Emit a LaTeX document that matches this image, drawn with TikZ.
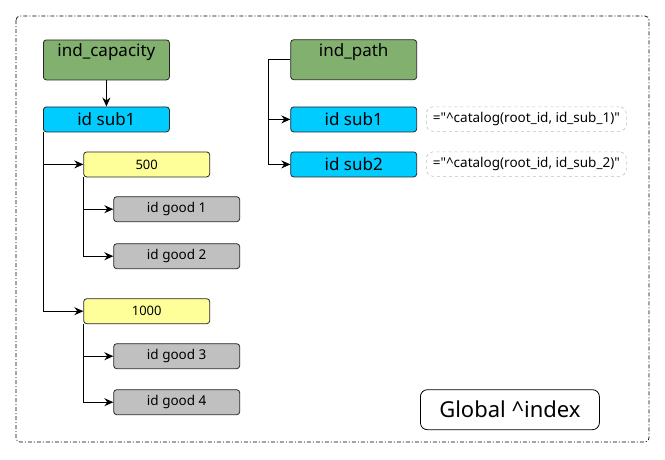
\documentclass[tikz,border=0pt]{standalone}
\usepackage{fontspec}
\setmainfont{Noto Sans}[Ligatures=TeXOff]
\usetikzlibrary{arrows.meta}
\begin{document}
\begin{tikzpicture}[x=1pt,y=-1pt,
  box/.style={draw=black!85,line width=0.8pt,rounded corners=3pt,inner sep=0pt,anchor=north west},
  greenbox/.style={box,fill=green2},
  bluebox/.style={box,fill=cyan2,font=\fontsize{17}{19}\selectfont},
  yellowbox/.style={box,fill=yellow2,font=\fontsize{13}{15}\selectfont},
  graybox/.style={box,fill=gray2,font=\fontsize{13.5}{15}\selectfont},
  notebox/.style={draw=black!25,dashed,line width=0.6pt,rounded corners=7pt,inner sep=0pt,anchor=north west,font=\fontsize{13.5}{15}\selectfont},
  conn/.style={line width=0.8pt,-{Stealth[length=9pt,width=8pt,inset=3pt]}},
  plain/.style={line width=0.8pt}
]
\definecolor{green2}{HTML}{82B06F}
\definecolor{cyan2}{HTML}{00CCFF}
\definecolor{yellow2}{HTML}{FFFF99}
\definecolor{gray2}{HTML}{C0C0C0}
\useasboundingbox (0,0) rectangle (665,459);
\draw[black,line width=0.7pt,dash pattern=on 4pt off 2pt on 1pt off 2pt,rounded corners=4pt] (16,16) rectangle (649,442);

% left column
\node[greenbox,minimum width=126,minimum height=40,
  label={[anchor=center,yshift=-12.5pt,font=\fontsize{17}{19}\selectfont]north:ind\_capacity}] (cap) at (43,39.5) {};
\node[bluebox,minimum width=126,minimum height=25] (s1) at (43,106.5) {id sub1};
\node[yellowbox,minimum width=126,minimum height=25] (y500) at (83.3,151.5) {500};
\node[graybox,minimum width=126,minimum height=25] (g1) at (113.3,196.3) {id good 1};
\node[graybox,minimum width=126,minimum height=25] (g2) at (113.3,243.3) {id good 2};
\node[yellowbox,minimum width=126,minimum height=25] (y1000) at (83.3,298.3) {1000};
\node[graybox,minimum width=126,minimum height=25] (g3) at (113.3,343.3) {id good 3};
\node[graybox,minimum width=126,minimum height=25] (g4) at (113.3,389.3) {id good 4};

\draw[conn] (cap.south) -- (s1.north);
\draw[conn] (s1.south west) ++(0.7,0) |- (y500.west);
\draw[conn] (s1.south west) ++(0.7,0) |- (y1000.west);
\draw[conn] (y500.south west) ++(0.4,0) |- (g1.west);
\draw[conn] (y500.south west) ++(0.4,0) |- (g2.west);
\draw[conn] (y1000.south west) ++(0.4,0) |- (g3.west);
\draw[conn] (y1000.south west) ++(0.4,0) |- (g4.west);

% right column
\node[greenbox,minimum width=126,minimum height=40,
  label={[anchor=center,yshift=-13pt,font=\fontsize{17}{19}\selectfont]north:ind\_path}] (path) at (290.3,39.3) {};
\node[bluebox,minimum width=126,minimum height=25] (r1) at (290.3,106.5) {id sub1};
\node[bluebox,minimum width=126,minimum height=25] (r2) at (290.3,151.5) {id sub2};
\coordinate (pj) at (268.3,59.3);
\draw[plain] ([yshift=-20pt]path.north west) -- (pj);
\draw[conn] (pj) |- (r1.west);
\draw[conn] (pj) |- (r2.west);

\node[notebox,minimum width=200,minimum height=24.5] (n1) at (426,106.5) {="\textasciicircum catalog(root\_id, id\_sub\_1)"};
\node[notebox,minimum width=200,minimum height=24.5] (n2) at (426,151.5) {="\textasciicircum catalog(root\_id, id\_sub\_2)"};

\node[draw=black,line width=0.8pt,rounded corners=7pt,inner sep=0pt,anchor=north west,
  minimum width=179,minimum height=40,font=\fontsize{22}{24}\selectfont] (gi) at (420,389.3) {Global \textasciicircum index};
\end{tikzpicture}
\end{document}
